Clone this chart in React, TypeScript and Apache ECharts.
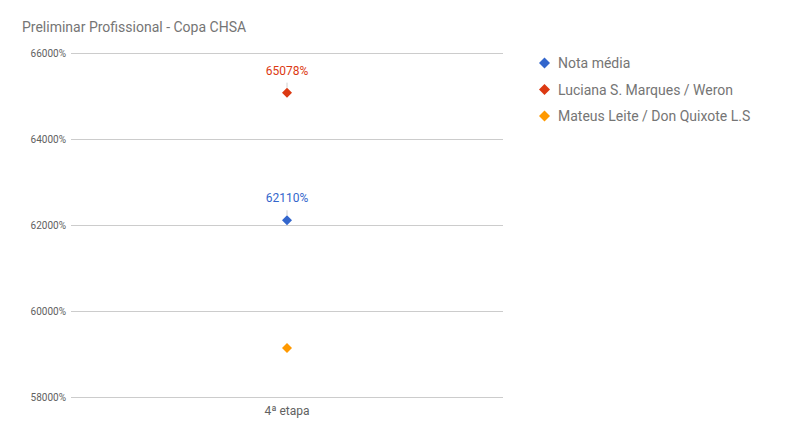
import { useEffect, useRef } from 'react';
import * as echarts from 'echarts';

const categories = ['4ª etapa'];
const seriesNames = ['Nota média', 'Luciana S. Marques / Weron', 'Mateus Leite / Don Quixote L.S'];
const notaMedia = [62110];
const luciana = [65078];
const mateus = [59140];
const colors = ['#3366cc', '#dc3912', '#ff9900'];

export default function App() {
  const chartRef = useRef<HTMLDivElement>(null);

  useEffect(() => {
    if (!chartRef.current) return;
    const chart = echarts.init(chartRef.current, undefined, { renderer: 'svg' });

    // 数据标签（橙色无标签）
    const makeSeries = (name: string, data: number[], color: string, showLabel: boolean) => ({
      name,
      type: 'scatter' as const,
      data,
      symbol: 'diamond',
      symbolSize: 10,
      itemStyle: { color, opacity: 1 },
      label: {
        show: showLabel,
        position: 'top' as const,
        distance: 11,
        color,
        fontSize: 12,
        fontFamily: 'Roboto',
        formatter: (p: any) => `${p.value}%`,
      },
      labelLine: {
        show: showLabel,
        lineStyle: { color: '#d0d0d0', width: 1 },
      },
    });

    chart.setOption({
      animation: false,
      color: colors,
      textStyle: { fontFamily: 'Roboto' },
      title: {
        text: 'Preliminar Profissional - Copa CHSA',
        left: 17,
        top: 15,
        textStyle: { fontSize: 14, fontWeight: 'normal', color: '#757575', fontFamily: 'Roboto' },
      },
      legend: {
        orient: 'vertical',
        left: 534,
        top: 51,
        icon: 'diamond',
        itemWidth: 11,
        itemHeight: 11,
        itemGap: 12.5,
        data: seriesNames,
        textStyle: { fontSize: 14, color: '#757575', fontFamily: 'Roboto', padding: [0, 0, 0, 3] },
      },
      grid: { left: 71, right: 309, top: 53, bottom: 40 },
      xAxis: {
        type: 'category',
        data: categories,
        boundaryGap: true,
        axisLine: { show: false },
        axisTick: { show: false },
        axisLabel: { color: '#616161', fontSize: 12, margin: 8 },
      },
      yAxis: {
        type: 'value',
        min: 58000,
        max: 66000,
        interval: 2000,
        axisLine: { show: false },
        axisTick: { show: false },
        splitLine: { lineStyle: { color: '#cccccc', width: 1 } },
        axisLabel: {
          color: '#616161',
          fontSize: 10,
          margin: 5,
          formatter: (v: number) => `${v}%`,
        },
      },
      series: [
        makeSeries(seriesNames[0], notaMedia, colors[0], true),
        makeSeries(seriesNames[1], luciana, colors[1], true),
        makeSeries(seriesNames[2], mateus, colors[2], false),
      ],
    });

    return () => {
      chart.dispose();
    };
  }, []);

  return (
    <div
      ref={chartRef}
      style={{ position: 'fixed', left: 0, top: 0, width: '812px', height: '437px', background: '#fff' }}
    />
  );
}
